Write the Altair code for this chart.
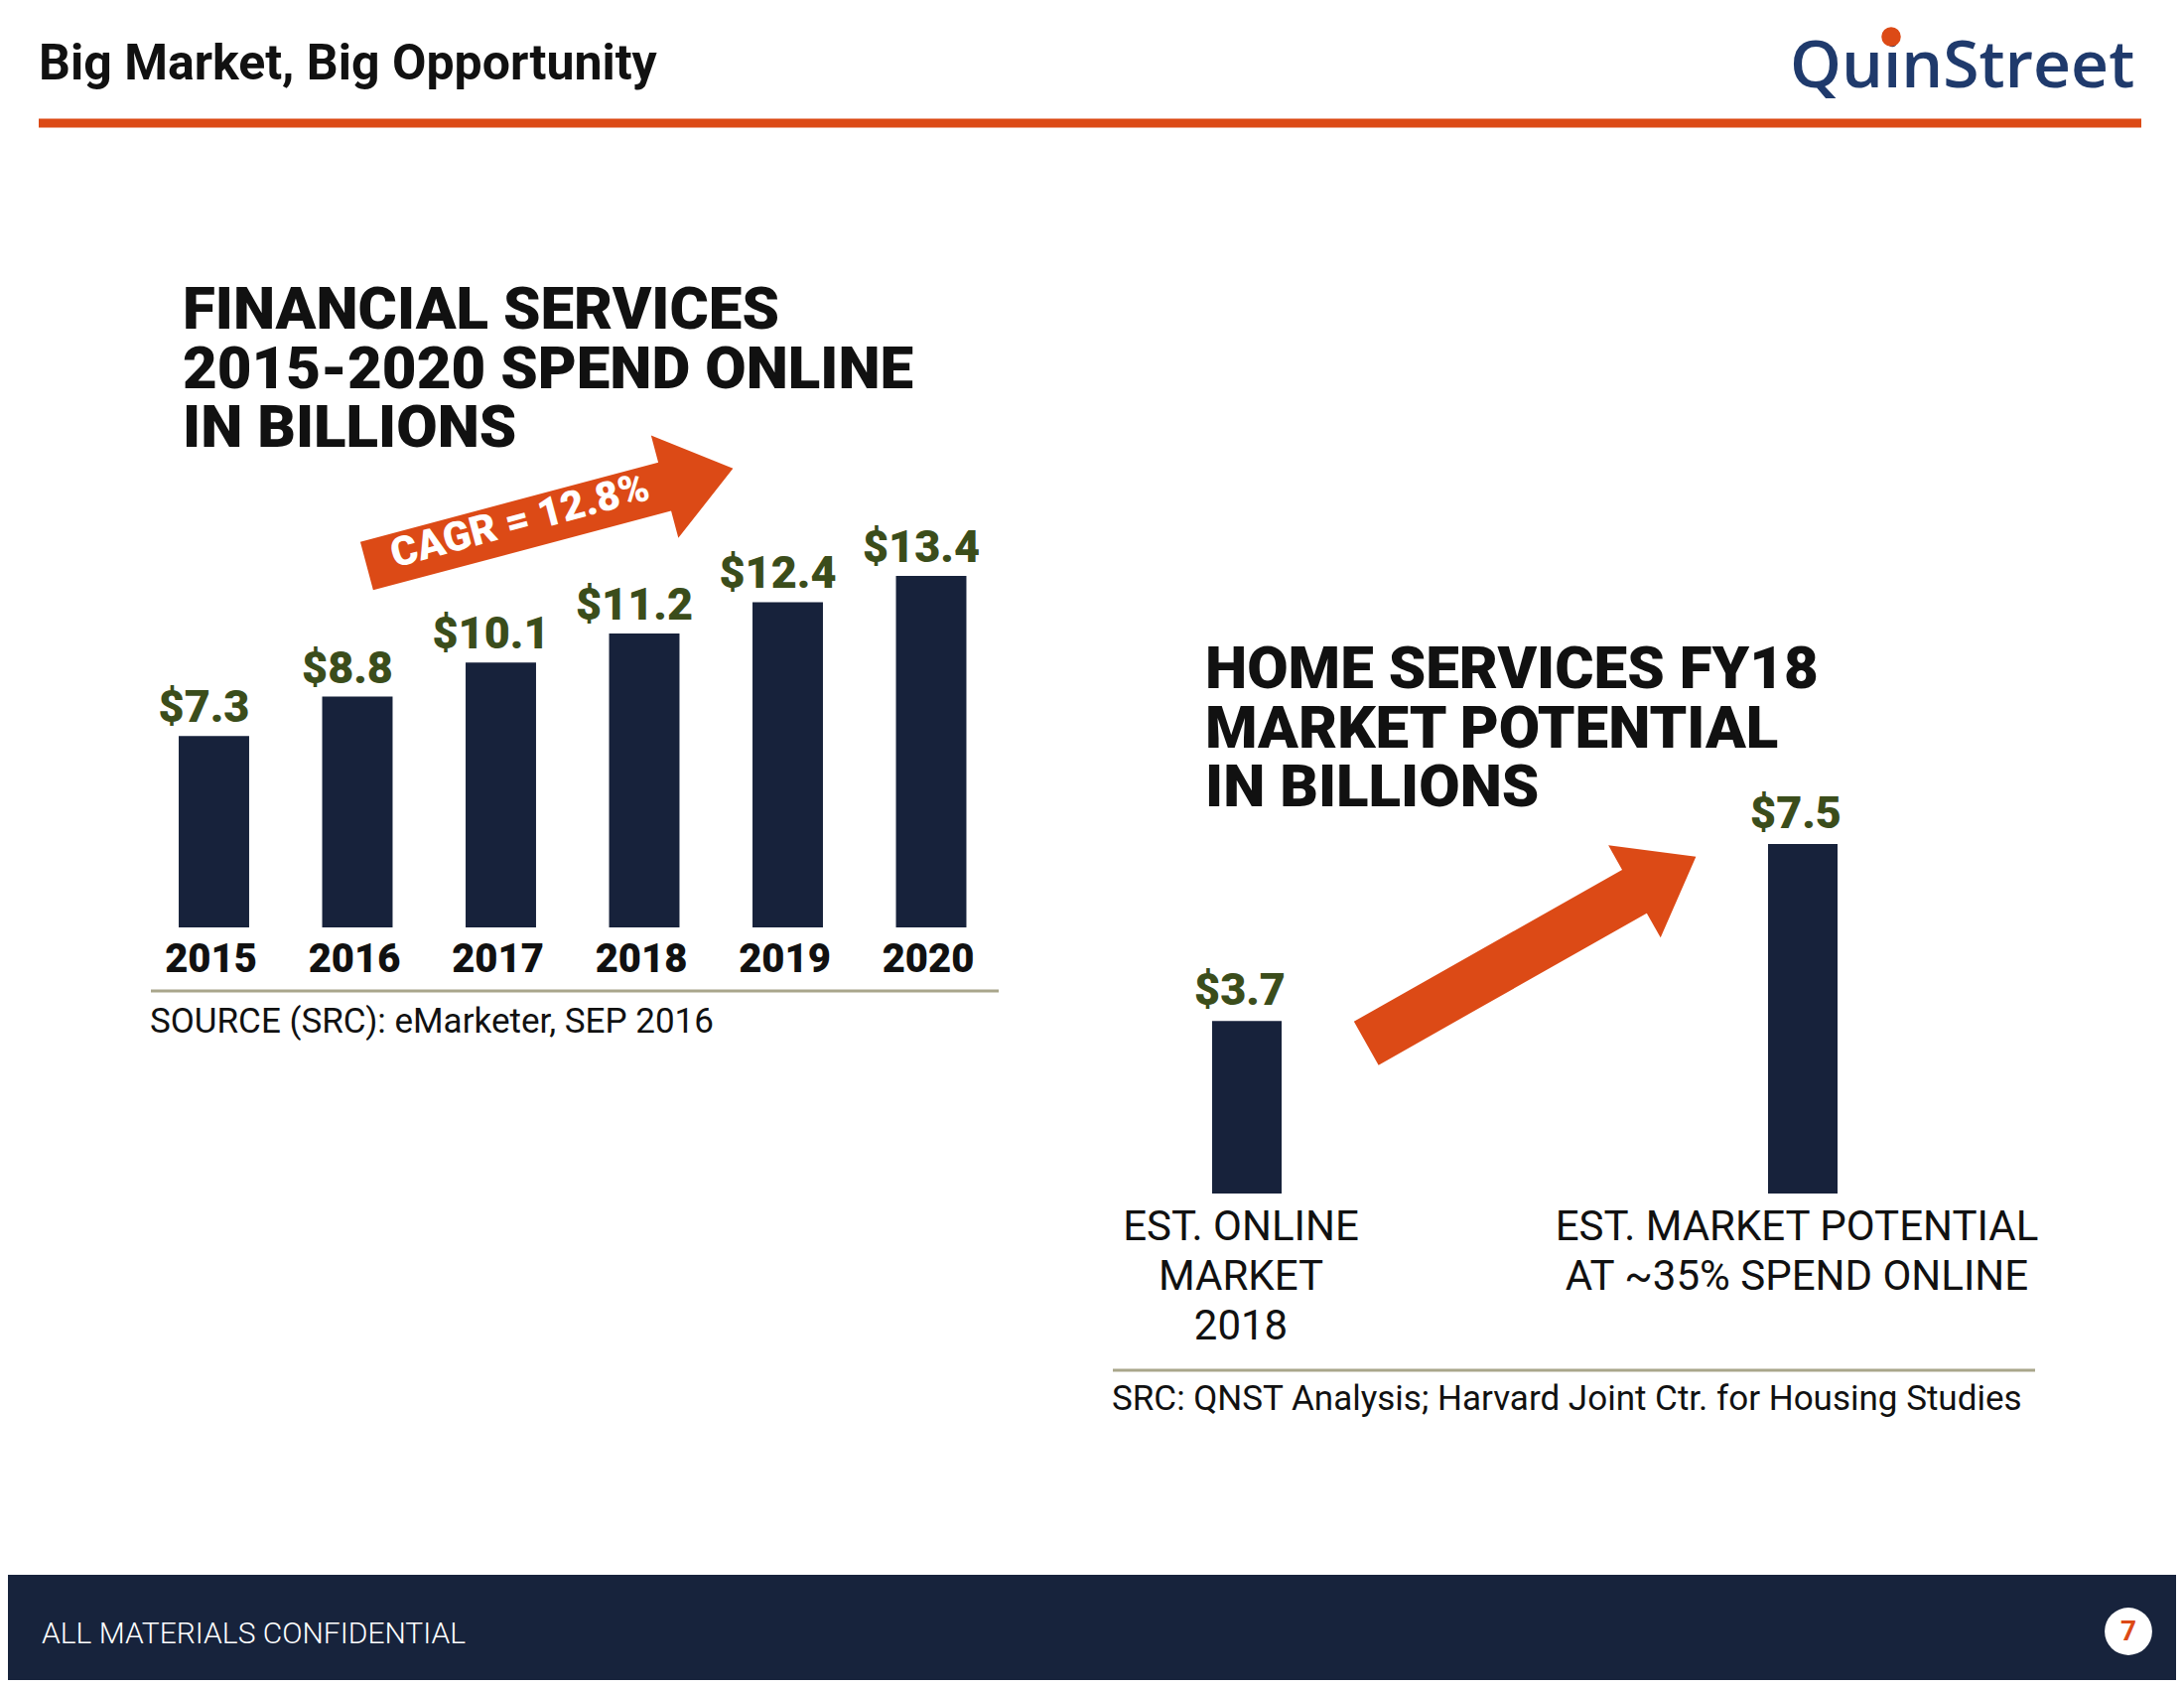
import altair as alt
import pandas as pd

# ---------------- data ----------------
fin_years = ["2015", "2016", "2017", "2018", "2019", "2020"]
fin_values = [7.3, 8.8, 10.1, 11.2, 12.4, 13.4]
fin_labels = ["$7.3", "$8.8", "$10.1", "$11.2", "$12.4", "$13.4"]

home_cats = ["EST. ONLINE\nMARKET\n2018", "EST. MARKET POTENTIAL\nAT ~35% SPEND ONLINE"]
home_values = [3.7, 7.5]
home_labels = ["$3.7", "$7.5"]

page_title = "Big Market, Big Opportunity"
logo_text = "QuinStreet"
fin_title = ["FINANCIAL SERVICES", "2015-2020 SPEND ONLINE", "IN BILLIONS"]
home_title = ["HOME SERVICES FY18", "MARKET POTENTIAL", "IN BILLIONS"]
cagr_text = "CAGR = 12.8%"
fin_source = "SOURCE (SRC): eMarketer, SEP 2016"
home_source = "SRC: QNST Analysis; Harvard Joint Ctr. for Housing Studies"
footer_text = "ALL MATERIALS CONFIDENTIAL"
page_no = "7"

# ---------------- style ----------------
NAVY = "#17223B"
ORANGE = "#DC4A16"
GREEN = "#3B4D1B"
KHAKI = "#A9A68B"
LOGO = "#1F3A6C"
FOOT = "#17233C"
INK = "#111111"
FONT = "Roboto"

W, H = 2184, 1684
O = 8


def p(v):
    return v - O


ARROW = "M-1,-0.132 L0.627,-0.132 L0.627,-0.28 L1,0 L0.627,0.28 L0.627,0.132 L-1,0.132 Z"

one = pd.DataFrame({"a": [0]})
base = alt.Chart(one)

# ---------------- financial services bars ----------------
fin_df = pd.DataFrame({"year": fin_years, "value": fin_values, "label": fin_labels})
fx = alt.X("year:N", sort=fin_years, axis=None,
           scale=alt.Scale(domain=fin_years, range=[p(143.25), p(1010.25)],
                           paddingInner=0.509, paddingOuter=0.2545))
fy_scale = alt.Scale(domain=[0, max(fin_values)], range=[p(934), p(580)], nice=False, zero=True)
fy = alt.Y("value:Q", axis=None, scale=fy_scale)

fin_bars = alt.Chart(fin_df).mark_bar(color=NAVY).encode(x=fx, y=fy)
fin_vals = alt.Chart(fin_df).mark_text(
    font=FONT, fontSize=45, fontWeight=900, color=GREEN, baseline="alphabetic",
    align="center", dy=-14, dx=-10).encode(x=fx, y=fy, text="label:N")
fin_year_lbl = alt.Chart(fin_df).mark_text(
    font=FONT, fontSize=40, fontWeight=900, color=INK, baseline="alphabetic",
    align="center", dy=45, dx=-3).encode(
    x=fx, y=alt.YDatum(0, type="quantitative", scale=fy_scale, axis=None), text="year:N")
fin = alt.layer(fin_bars, fin_vals, fin_year_lbl)

# ---------------- home services bars ----------------
home_df = pd.DataFrame({"cat": home_cats, "value": home_values, "label": home_labels})
hx = alt.X("cat:N", sort=home_cats, axis=None,
           scale=alt.Scale(domain=home_cats, range=[p(976), p(2096)],
                           paddingInner=0.875, paddingOuter=0.4375))
hy_scale = alt.Scale(domain=[0, max(home_values)], range=[p(1202), p(850)], nice=False, zero=True)
hy = alt.Y("value:Q", axis=None, scale=hy_scale)

home_bars = alt.Chart(home_df).mark_bar(color=NAVY).encode(x=hx, y=hy)
home_vals = alt.Chart(home_df).mark_text(
    font=FONT, fontSize=45, fontWeight=900, color=GREEN, baseline="alphabetic",
    align="center", dy=-16, dx=-7).encode(x=hx, y=hy, text="label:N")
home_cat_lbl = alt.Chart(home_df).mark_text(
    font=FONT, fontSize=42, fontWeight=400, color=INK, baseline="alphabetic",
    align="center", dy=47, dx=-6, lineBreak="\n", lineHeight=50).encode(
    x=hx, y=alt.YDatum(0, type="quantitative", scale=hy_scale, axis=None), text="cat:N")
home = alt.layer(home_bars, home_vals, home_cat_lbl)

# ---------------- decorations ----------------
header = base.mark_text(text=page_title, font=FONT, fontSize=50, fontWeight=700, color=INK,
                        align="left", baseline="alphabetic").encode(
    x=alt.value(p(39)), y=alt.value(p(80)))
logo = base.mark_text(text=logo_text, font="Open Sans", fontSize=66, fontWeight=600, color=LOGO,
                      align="left", baseline="alphabetic").encode(
    x=alt.value(p(1803)), y=alt.value(p(88)))
logo_dot = base.mark_point(shape="circle", filled=True, color=ORANGE, opacity=1, size=380,
                           strokeWidth=0).encode(x=alt.value(p(1905)), y=alt.value(p(37)))
header_line = base.mark_rect(color=ORANGE).encode(
    x=alt.value(p(39)), x2=alt.value(p(2157)), y=alt.value(p(119.5)), y2=alt.value(p(128.5)))

fin_title_t = base.mark_text(text=fin_title, font=FONT, fontSize=60, fontWeight=900, color=INK,
                             align="left", baseline="alphabetic", lineHeight=59.5).encode(
    x=alt.value(p(184)), y=alt.value(p(331)))
home_title_t = base.mark_text(text=home_title, font=FONT, fontSize=60, fontWeight=900, color=INK,
                              align="left", baseline="alphabetic", lineHeight=59.5).encode(
    x=alt.value(p(1214)), y=alt.value(p(693)))

arrow1 = base.mark_point(shape=ARROW, filled=True, color=ORANGE, opacity=1, strokeWidth=0,
                         size=381.8 ** 2, angle=345.1).encode(
    x=alt.value(p(553.9)), y=alt.value(p(520.9)))
cagr = base.mark_text(text=cagr_text, font=FONT, fontSize=41, fontWeight=900, color="white",
                      align="center", baseline="alphabetic", angle=345).encode(
    x=alt.value(p(527)), y=alt.value(p(537)))
arrow2 = base.mark_point(shape=ARROW, filled=True, color=ORANGE, opacity=1, strokeWidth=0,
                         size=381.6 ** 2, angle=330.5).encode(
    x=alt.value(p(1542.3)), y=alt.value(p(956.75)))

fin_sep = base.mark_rule(color=KHAKI, strokeWidth=3).encode(
    x=alt.value(p(152)), x2=alt.value(p(1006)), y=alt.value(p(998)))
home_sep = base.mark_rule(color=KHAKI, strokeWidth=3).encode(
    x=alt.value(p(1121)), x2=alt.value(p(2050)), y=alt.value(p(1380)))
fin_src = base.mark_text(text=fin_source, font=FONT, fontSize=35, fontWeight=400, color=INK,
                         align="left", baseline="alphabetic").encode(
    x=alt.value(p(151)), y=alt.value(p(1040)))
home_src = base.mark_text(text=home_source, font=FONT, fontSize=35, fontWeight=400, color=INK,
                          align="left", baseline="alphabetic").encode(
    x=alt.value(p(1120)), y=alt.value(p(1420)))

footer_band = base.mark_rect(color=FOOT).encode(
    x=alt.value(0), x2=alt.value(W), y=alt.value(p(1586)), y2=alt.value(H))
footer_t = base.mark_text(text=footer_text, font=FONT, fontSize=30, fontWeight=300, color="white",
                          align="left", baseline="alphabetic").encode(
    x=alt.value(p(42)), y=alt.value(p(1655)))
page_circle = base.mark_point(shape="circle", filled=True, color="white", opacity=1, strokeWidth=0,
                              size=3.1416 * 27 ** 2).encode(x=alt.value(p(2144)), y=alt.value(p(1643)))
page_t = base.mark_text(text=page_no, font=FONT, fontSize=28, fontWeight=700, color=ORANGE,
                        align="center", baseline="middle").encode(
    x=alt.value(p(2144)), y=alt.value(p(1644)))

chart = alt.layer(
    header_line, header, logo, logo_dot,
    fin_title_t, home_title_t,
    fin, home,
    arrow1, cagr, arrow2,
    fin_sep, home_sep, fin_src, home_src,
    footer_band, footer_t, page_circle, page_t,
).resolve_scale(x="independent", y="independent").properties(
    width=W, height=H, padding=0, background="white",
    autosize=alt.AutoSizeParams(type="fit", contains="padding"),
).configure_view(stroke=None)

chart.save("out.html", embed_options={"renderer": "svg", "actions": False})
